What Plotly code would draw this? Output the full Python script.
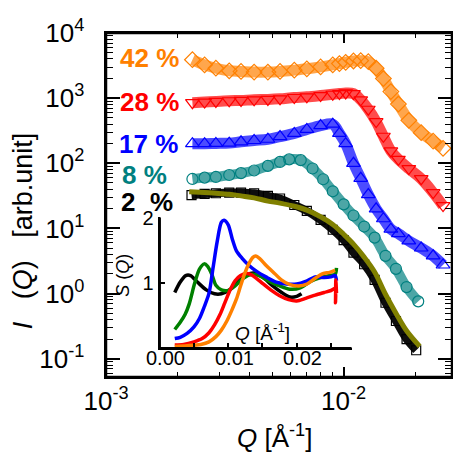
import plotly.graph_objects as go

# ---------------- data ----------------
# Q grid for 42 %, 28 %, 17 %  [1/Å]
q_hi = [0.00231, 0.0026, 0.0029, 0.0033, 0.0037, 0.0042, 0.0048, 0.0054, 0.0062, 0.0070,
        0.0080, 0.0090, 0.0096, 0.0102, 0.0110, 0.0118, 0.0127, 0.0137, 0.0147, 0.0158,
        0.0170, 0.0188, 0.0212, 0.0238, 0.0262]
i_42 = [3890, 3240, 2880, 2630, 2570, 2510, 2510, 2570, 2690, 2820,
        3020, 3240, 3390, 3550, 3720, 3760, 3630, 2880, 2000, 1260,
        813, 457, 295, 219, 170]
i_28 = [851, 871, 891, 912, 923, 944, 955, 977, 1023, 1047,
        1096, 1148, 1175, 1202, 1175, 944, 676, 437, 260, 155,
        115, 83, 58, 35.5, 22.4]
i_17 = [200, 200, 202, 204, 214, 224, 234, 257, 288, 331,
        380, 398, 288, 200, 100, 58.9, 33.1, 20, 14.1, 9.77,
        8.32, 6.46, 5.01, 3.80, 2.75]

q_8 = [0.00231, 0.0026, 0.0029, 0.0033, 0.0037, 0.0042, 0.0048, 0.0054, 0.0059, 0.0066,
       0.0074, 0.0082, 0.0090, 0.0100, 0.0110, 0.0122, 0.0135, 0.0150, 0.0166, 0.0184, 0.0206]
i_8 = [57.5, 60.3, 61.7, 66.1, 70.8, 77.6, 91.2, 105, 115, 112,
       83.2, 56.9, 37.2, 23.4, 15.8, 10.7, 7.24, 3.80, 2.40, 1.26, 0.76]

q_2 = [0.00229, 0.0026, 0.0029, 0.0033, 0.0037, 0.0042, 0.0048, 0.0054, 0.0062, 0.0070,
       0.0080, 0.0090, 0.0100, 0.0110, 0.0122, 0.0135, 0.0150, 0.0166, 0.0184, 0.0202]
i_2 = [32.4, 33.9, 34.7, 35.5, 35.5, 34.7, 31.6, 28.8, 22.9, 18.6,
       13.5, 9.55, 6.61, 4.27, 2.82, 1.62, 0.724, 0.380, 0.200, 0.135]

q_fit = [0.00224, 0.0026, 0.0029, 0.0033, 0.0037, 0.0042, 0.0048, 0.0054, 0.0062, 0.0070,
         0.0080, 0.0090, 0.0100, 0.0110, 0.0122, 0.0135, 0.0150, 0.0166, 0.0184, 0.0209]
i_fit = [36.7, 35.5, 34.7, 33.5, 31.6, 29.5, 26.3, 24.5, 21.9, 19.1,
         15.1, 11.5, 8.13, 5.75, 3.63, 2.14, 0.977, 0.501, 0.269, 0.155]

# inset S(Q)
sq_q_2 = [0.0022, 0.0030, 0.0038, 0.0045, 0.0055, 0.0068, 0.0080, 0.0090, 0.0102, 0.0116,
          0.0128, 0.0138, 0.0150, 0.0164, 0.0178, 0.0190, 0.0200, 0.0207]
sq_s_2 = [0.86, 1.02, 1.12, 1.12, 1.02, 0.90, 0.84, 0.84, 0.90, 1.04,
          1.14, 1.16, 1.10, 0.97, 0.86, 0.79, 0.80, 0.84]
sq_q_8 = [0.0022, 0.0030, 0.0037, 0.0043, 0.0051, 0.0058, 0.0065, 0.0070, 0.0076, 0.0082,
          0.0090, 0.0100, 0.0110, 0.0122, 0.0135, 0.0145, 0.0160, 0.0175, 0.0190, 0.0205,
          0.0220, 0.0235, 0.0248, 0.0256, 0.0258]
sq_s_8 = [0.29, 0.40, 0.52, 0.68, 1.00, 1.22, 1.30, 1.26, 1.14, 0.97,
          0.90, 0.89, 0.96, 1.08, 1.14, 1.12, 1.03, 0.96, 0.91, 0.93,
          1.03, 1.09, 1.12, 1.14, 1.24]
sq_q_17 = [0.0022, 0.0030, 0.0040, 0.0050, 0.0058, 0.0065, 0.0072, 0.0078, 0.0084, 0.0090,
           0.0094, 0.0100, 0.0106, 0.0112, 0.0120, 0.0130, 0.0142, 0.0155, 0.0170, 0.0185,
           0.0200, 0.0213, 0.0227, 0.0240, 0.0250, 0.0256, 0.0258]
sq_s_17 = [0.15, 0.17, 0.23, 0.33, 0.46, 0.64, 0.85, 1.25, 1.65, 1.94,
           1.97, 1.90, 1.68, 1.50, 1.39, 1.28, 1.18, 1.10, 1.02, 0.99,
           0.99, 1.03, 1.10, 1.09, 1.10, 1.12, 1.04]
sq_q_28 = [0.0022, 0.0035, 0.0050, 0.0062, 0.0072, 0.0080, 0.0088, 0.0095, 0.0102, 0.0110,
           0.0118, 0.0126, 0.0134, 0.0142, 0.0150, 0.0162, 0.0175, 0.0188, 0.0200, 0.0213,
           0.0227, 0.0240, 0.0250, 0.0256, 0.02565, 0.0257, 0.0258]
sq_s_28 = [0.05, 0.06, 0.10, 0.15, 0.24, 0.36, 0.52, 0.70, 0.88, 1.04,
           1.12, 1.15, 1.13, 1.07, 1.00, 0.90, 0.81, 0.75, 0.73, 0.77,
           0.82, 0.86, 0.89, 0.92, 0.70, 1.05, 0.85]
sq_q_42 = [0.0022, 0.0040, 0.0060, 0.0072, 0.0082, 0.0090, 0.0098, 0.0105, 0.0112, 0.0118,
           0.0124, 0.0130, 0.0136, 0.0140, 0.0146, 0.0155, 0.0165, 0.0178, 0.0190, 0.0203,
           0.0215, 0.0227, 0.0238, 0.0248, 0.0256]
sq_s_42 = [0.03, 0.04, 0.06, 0.10, 0.18, 0.28, 0.42, 0.58, 0.76, 0.96,
           1.15, 1.30, 1.40, 1.42, 1.38, 1.28, 1.18, 1.05, 0.98, 0.96,
           0.99, 1.08, 1.15, 1.17, 1.20]

labels = ["42 %", "28 %", "17 %", "8 %", "2&nbsp;&nbsp;%"]
x_ticks_main = [0.001, 0.01]
x_ticktext_main = ["10<sup>-3</sup>", "10<sup>-2</sup>"]
x_ticks_minor = [0.002, 0.003, 0.004, 0.005, 0.006, 0.007, 0.008, 0.009, 0.02]
y_ticks_main = [0.1, 1, 10, 100, 1000, 10000]
y_ticktext_main = ["10<sup>-1</sup>", "10<sup>0</sup>", "10<sup>1</sup>",
                   "10<sup>2</sup>", "10<sup>3</sup>", "10<sup>4</sup>"]
y_ticks_minor = [0.06, 0.07, 0.08, 0.09,
                 0.2, 0.3, 0.4, 0.5, 0.6, 0.7, 0.8, 0.9,
                 2, 3, 4, 5, 6, 7, 8, 9,
                 20, 30, 40, 50, 60, 70, 80, 90,
                 200, 300, 400, 500, 600, 700, 800, 900,
                 2000, 3000, 4000, 5000, 6000, 7000, 8000, 9000]
inset_xticks = [0, 0.005, 0.01, 0.015, 0.02, 0.025]
inset_xlabel_vals = [0, 0.01, 0.02]
inset_xlabel_text = ["0.00", "0.01", "0.02"]
inset_yticks = [1, 2]
inset_yticktext = ["1", "2"]

# ---------------- styling ----------------
FONT = "Liberation Sans, Arial, sans-serif"
OFF = 8                      # page offset of the figure inside the browser window
L, R, T, B = 106, 454, 17, 377   # plot area in window pixels
IL, IR, IT, IB = 160, 353, 210, 347  # inset axes box in window pixels
FIG_W, FIG_H = 461 - OFF, 460 - OFF


def px_x(x):
    return (x - L) / (R - L)


def px_y(y):
    return (B - y) / (B - T)


ORANGE = "#FF8000"
RED = "#FF0000"
BLUE = "#0000FF"
TEAL = "#008080"
BLACK = "#000000"
OLIVE = "#808000"
GREEN = "#008000"


def rgba(hexc, a):
    h = hexc.lstrip("#")
    return "rgba(%d,%d,%d,%.2f)" % (int(h[0:2], 16), int(h[2:4], 16), int(h[4:6], 16), a)


fig = go.Figure()

series = [
    (q_2, i_2, BLACK, "square-open", 9, 0.95),
    (q_8, i_8, TEAL, "circle-open", 11, 0.7),
    (q_hi, i_17, BLUE, "triangle-up-open", 12, 0.7),
    (q_hi, i_28, RED, "triangle-down-open", 12, 0.7),
    (q_hi, i_42, ORANGE, "diamond-open", 12, 0.7),
]
for q, iv, col, sym, sz, a in series:
    fig.add_trace(go.Scatter(
        x=q, y=iv, mode="lines+markers",
        line=dict(color=rgba(col, a), width=sz - 1, shape="spline"),
        marker=dict(symbol=sym, size=sz, color=col, line=dict(color=col, width=1.2)),
        xaxis="x", yaxis="y", showlegend=False))

fig.add_trace(go.Scatter(x=q_fit, y=i_fit, mode="lines",
                         line=dict(color=OLIVE, width=5, shape="spline"),
                         xaxis="x", yaxis="y", showlegend=False))

for q, s, col in [(sq_q_2, sq_s_2, BLACK), (sq_q_8, sq_s_8, GREEN), (sq_q_17, sq_s_17, BLUE),
                  (sq_q_28, sq_s_28, RED), (sq_q_42, sq_s_42, ORANGE)]:
    fig.add_trace(go.Scatter(x=q, y=s, mode="lines",
                             line=dict(color=col, width=3.5, shape="spline", smoothing=0.8),
                             xaxis="x2", yaxis="y2", showlegend=False))

# empty trace that carries the minor-tick overlay axes
fig.add_trace(go.Scatter(x=[None], y=[None], mode="markers", xaxis="x3", yaxis="y3",
                         showlegend=False, hoverinfo="skip"))

ann = []
ann.append(dict(text="<i>I</i>&nbsp;&nbsp;&nbsp;(<i>Q</i>)&nbsp;&nbsp;&nbsp;[arb.unit]",
                x=px_x(22), y=px_y(224), textangle=-90, font=dict(size=27)))
ann.append(dict(text="<i>Q</i> [Å<sup>-1</sup>]", x=px_x(275), y=px_y(439), font=dict(size=26)))
ann.append(dict(text="<i>Q</i> [Å<sup>-1</sup>]", x=px_x(263), y=px_y(330), font=dict(size=19)))
ann.append(dict(text="<i>S</i> (<i>Q</i>)", x=px_x(123), y=px_y(270), textangle=-90,
                font=dict(size=18)))
for txt, col, cx, cy in zip(labels, [ORANGE, RED, BLUE, TEAL, BLACK],
                            [150, 150, 149, 145, 147], [43, 89, 133, 166, 194]):
    ann.append(dict(text="<b>%s</b>" % txt, x=px_x(cx), y=px_y(cy),
                    font=dict(size=26, color=col)))
for a in ann:
    a.update(xref="paper", yref="paper")
# inset x tick labels, placed at their tick values on the inset axis
for v, t in zip(inset_xlabel_vals, inset_xlabel_text):
    ann.append(dict(text=t, x=v, xref="x2", y=px_y(357), yref="paper", xshift=6,
                    font=dict(size=20)))
for a in ann:
    a.update(showarrow=False, xanchor="center", yanchor="middle")
    a.setdefault("font", {})
    a["font"].setdefault("color", "black")
    a["font"]["family"] = FONT

# frame of the main plot and the inset axis lines (axis decoration)
frame = dict(color="black", width=2.5)
shapes = [
    dict(type="rect", xref="paper", yref="paper", x0=0, x1=1, y0=0, y1=1,
         line=frame, fillcolor="rgba(0,0,0,0)", layer="above"),
    dict(type="line", xref="paper", yref="paper", x0=px_x(IL), x1=px_x(IR),
         y0=px_y(IB), y1=px_y(IB), line=frame, layer="above"),
    dict(type="line", xref="paper", yref="paper", x0=px_x(IL), x1=px_x(IL),
         y0=px_y(IB), y1=px_y(IT), line=frame, layer="above"),
]

tick_common = dict(showgrid=False, zeroline=False, ticks="inside", tickcolor="black",
                   ticklabeloverflow="allow")

fig.update_layout(
    width=FIG_W, height=FIG_H, autosize=False,
    margin=dict(l=L - OFF, r=FIG_W - (R - OFF), t=T - OFF, b=FIG_H - (B - OFF)),
    paper_bgcolor="white", plot_bgcolor="rgba(255,255,255,0)",
    font=dict(family=FONT, size=26, color="black"),
    showlegend=False,
    xaxis=dict(type="log", range=[-3, -1.544], showline=True, linewidth=2,
               linecolor="black", mirror="ticks", ticklen=10, tickwidth=1.5,
               tickvals=x_ticks_main, ticktext=x_ticktext_main,
               tickfont=dict(size=26), **tick_common),
    yaxis=dict(type="log", range=[-1.28, 4.0], showline=True, linewidth=2,
               linecolor="black", mirror="ticks", ticklen=14, tickwidth=1.5,
               tickvals=y_ticks_main,
               ticktext=[t + "&nbsp;&nbsp;" for t in y_ticktext_main],
               tickfont=dict(size=26), **tick_common),
    xaxis3=dict(type="log", range=[-3, -1.544], overlaying="x", anchor="y",
                showline=False, mirror="ticks", ticklen=5, tickwidth=1.2,
                tickvals=x_ticks_minor, showticklabels=False, **tick_common),
    yaxis3=dict(type="log", range=[-1.28, 4.0], overlaying="y", anchor="x",
                showline=False, mirror="ticks", ticklen=7, tickwidth=1.2,
                tickvals=y_ticks_minor, showticklabels=False, **tick_common),
    xaxis2=dict(domain=[px_x(IL), px_x(IR)], anchor="y2", range=[0, 0.028],
                showline=True, linewidth=2, linecolor="black", ticklen=5, tickwidth=1.5,
                tickvals=inset_xticks, showticklabels=False, **tick_common),
    yaxis2=dict(domain=[px_y(IB), px_y(IT)], anchor="x2", range=[0, 2.015],
                showline=True, linewidth=2, linecolor="black", ticklen=5, tickwidth=1.5,
                tickvals=inset_yticks, ticktext=inset_yticktext,
                tickfont=dict(size=20), **tick_common),
    annotations=ann,
    shapes=shapes,
)

fig.write_html("out.html")
